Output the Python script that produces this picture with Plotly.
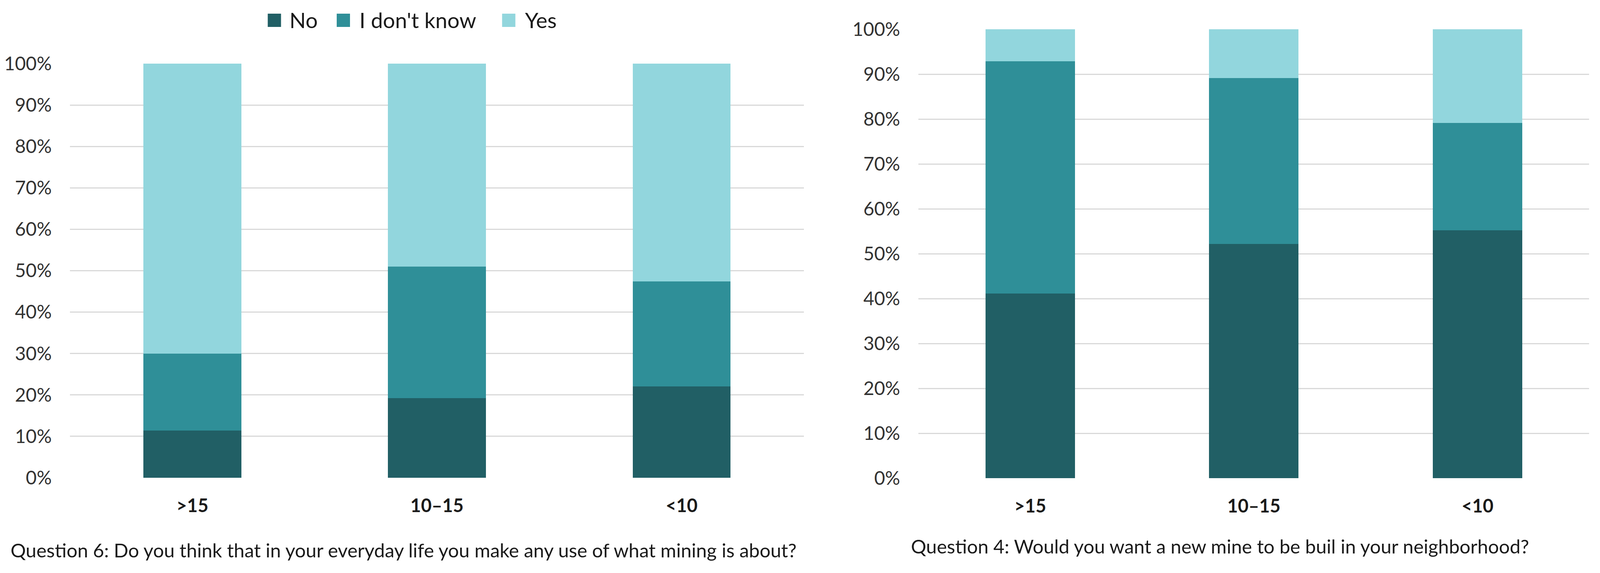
import plotly.graph_objects as go

categories = [">15", "10–15", "<10"]
series_names = ["No", "I don't know", "Yes"]
colors = ["#215F65", "#2F8F98", "#92D6DD"]

# Question 6 (left chart), percentages
q6_no = [11.4, 19.2, 22.1]
q6_idk = [18.6, 31.8, 25.3]
q6_yes = [70.0, 49.0, 52.6]

# Question 4 (right chart), percentages
q4_no = [41.1, 52.2, 55.2]
q4_idk = [51.8, 36.9, 23.9]
q4_yes = [7.1, 10.9, 20.9]

y_ticks = list(range(0, 101, 10))
y_tick_text = [f"{v}%" for v in y_ticks]

caption_q6 = "Question 6: Do you think that in your everyday life you make any use of what mining is about?"
caption_q4 = "Question 4: Would you want a new mine to be buil in your neighborhood?"

FONT = "Lato"
RW, RH = 4315, 1468      # reference layout size
W, H = 4096, 1468        # actual browser viewport

fig = go.Figure()
for name, vals, col in zip(series_names, [q6_no, q6_idk, q6_yes], colors):
    fig.add_trace(go.Bar(x=categories, y=vals, name=name, marker=dict(color=col, line=dict(width=0)),
                         xaxis="x", yaxis="y", showlegend=False))
for name, vals, col in zip(series_names, [q4_no, q4_idk, q4_yes], colors):
    fig.add_trace(go.Bar(x=categories, y=vals, name=name, marker=dict(color=col, line=dict(width=0)),
                         xaxis="x2", yaxis="y2", showlegend=False))

yax_common = dict(range=[0, 100], tickmode="array", tickvals=y_ticks, ticktext=y_tick_text,
                  showgrid=True, gridcolor="#D9D9D9", gridwidth=3, zeroline=False, showline=False,
                  tickfont=dict(family=FONT, size=48, color="#333333"),
                  ticklabelstandoff=46, automargin=False, fixedrange=True)
xax_common = dict(showgrid=False, showline=False, zeroline=False,
                  tickfont=dict(family=FONT, size=47, color="#1a1a1a", weight="bold"),
                  ticklabelstandoff=40, automargin=False)

# manual legend (large square swatches like the reference)
legend_square_centers = [740, 926, 1372]   # reference px
legend_text_starts = [778, 967, 1414]
shapes = []
annotations = []
for cx, tx, name, col in zip(legend_square_centers, legend_text_starts, series_names, colors):
    shapes.append(dict(type="rect", xref="paper", yref="paper", xsizemode="pixel", ysizemode="pixel",
                       xanchor=cx / RW, yanchor=1 - 52 / RH, x0=-17, x1=17, y0=-17, y1=17,
                       fillcolor=col, line=dict(width=0), layer="above"))
    annotations.append(dict(text=name, x=tx / RW, y=1 - 51 / RH, xref="paper", yref="paper",
                            xanchor="left", yanchor="middle", showarrow=False,
                            font=dict(family=FONT, size=55, color="#1a1a1a")))

annotations += [
    dict(text=caption_q6, x=1088 / RW, y=1 - 1409 / RH, xref="paper", yref="paper",
         xanchor="center", yanchor="middle", showarrow=False,
         font=dict(family=FONT, size=49, color="#1a1a1a")),
    dict(text=caption_q4, x=3290 / RW, y=1 - 1399 / RH, xref="paper", yref="paper",
         xanchor="center", yanchor="middle", showarrow=False,
         font=dict(family=FONT, size=49, color="#1a1a1a")),
]

fig.update_layout(
    width=W, height=H,
    margin=dict(l=0, r=0, t=0, b=0),
    paper_bgcolor="white", plot_bgcolor="white",
    barmode="stack", bargap=0.6, showlegend=False,
    xaxis=dict(domain=[189 / RW, 2168 / RW], anchor="y", **xax_common),
    yaxis=dict(domain=[1 - 1224 / RH, 1 - 163 / RH], anchor="x", **yax_common),
    xaxis2=dict(domain=[2477 / RW, 4286 / RW], anchor="y2", **xax_common),
    yaxis2=dict(domain=[1 - 1225 / RH, 1 - 75 / RH], anchor="x2", **yax_common),
    shapes=shapes,
    annotations=annotations,
)

post = """
document.body.style.margin='0';
document.documentElement.style.overflow='hidden';
"""
fig.write_html("out.html", post_script=post, config={"displayModeBar": False})
